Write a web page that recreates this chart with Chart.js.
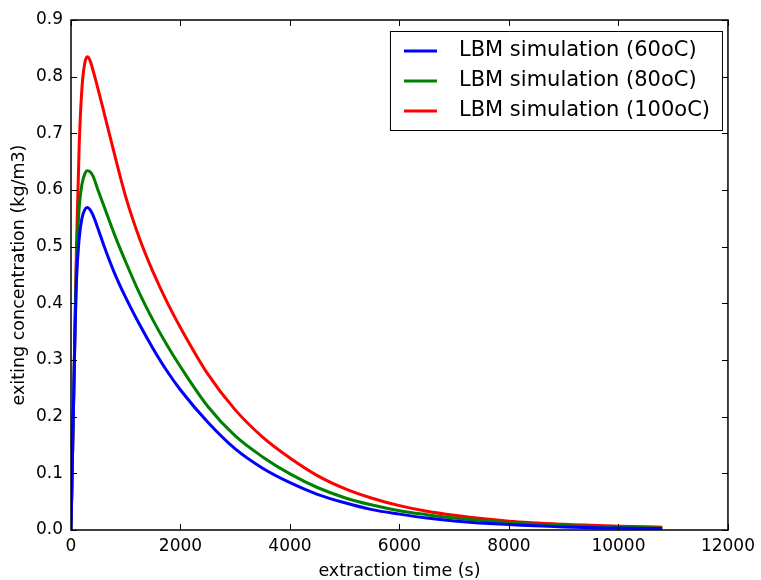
<!DOCTYPE html>
<html>
<head>
<meta charset="utf-8">
<script src="https://cdn.jsdelivr.net/npm/chart.js@4.4.0/dist/chart.umd.min.js"></script>
<style>
  html, body { margin: 0; padding: 0; background: #fff; }
  #wrap { width: 761px; height: 580px; }
</style>
</head>
<body>
<div id="wrap"><canvas id="chart"></canvas></div>
<script>
// extraction time (s)
const times = [0, 25, 50, 75, 100, 150, 200, 250, 300, 350, 400, 500, 600, 800, 1000, 1250, 1500, 1750, 2000,
  2500, 3000, 3500, 4000, 4500, 5000, 5500, 6000, 6500, 7000, 8000, 9000, 10000, 10800];

// exiting concentration (kg/m3)
const conc60 = [0, 0.12, 0.24, 0.355, 0.44, 0.515, 0.55, 0.565, 0.569, 0.565, 0.556, 0.53, 0.502, 0.452, 0.41, 0.363,
  0.32, 0.281, 0.247, 0.19, 0.143, 0.109, 0.0835, 0.063, 0.048, 0.036, 0.028, 0.021, 0.016, 0.0095, 0.0055, 0.0035, 0.0025];
const conc80 = [0, 0.12, 0.24, 0.37, 0.475, 0.57, 0.61, 0.628, 0.634, 0.632, 0.625, 0.598, 0.572, 0.52, 0.473, 0.418,
  0.37, 0.327, 0.288, 0.218, 0.166, 0.129, 0.099, 0.075, 0.057, 0.044, 0.034, 0.027, 0.021, 0.013, 0.008, 0.005, 0.0035];
const conc100 = [0, 0.12, 0.24, 0.37, 0.50, 0.68, 0.78, 0.823, 0.835, 0.828, 0.812, 0.776, 0.738, 0.661, 0.588, 0.515,
  0.455, 0.403, 0.357, 0.275, 0.212, 0.164, 0.127, 0.096, 0.073, 0.056, 0.043, 0.033, 0.026, 0.0155, 0.010, 0.0068, 0.005];

const seriesLabels = ['LBM simulation (60oC)', 'LBM simulation (80oC)', 'LBM simulation (100oC)'];
const seriesColors = ['#0000ff', '#008000', '#ff0000'];

const FONT = "'DejaVu Sans', sans-serif";

function toPoints(ys) {
  return times.map((t, i) => ({ x: t, y: ys[i] }));
}

// inward ticks on all four sides + frame, like the matplotlib original
const framePlugin = {
  id: 'frame',
  afterDraw(chart) {
    const ctx = chart.ctx;
    const a = chart.chartArea;
    const xs = chart.scales.x, ys = chart.scales.y;
    const len = 6;
    ctx.save();
    ctx.strokeStyle = '#000';
    ctx.lineWidth = 1;
    ctx.beginPath();
    xs.ticks.forEach(t => {
      const px = Math.round(xs.getPixelForValue(t.value)) + 0.5;
      ctx.moveTo(px, a.bottom); ctx.lineTo(px, a.bottom - len);
      ctx.moveTo(px, a.top); ctx.lineTo(px, a.top + len);
    });
    ys.ticks.forEach(t => {
      const py = Math.round(ys.getPixelForValue(t.value)) + 0.5;
      ctx.moveTo(a.left, py); ctx.lineTo(a.left + len, py);
      ctx.moveTo(a.right, py); ctx.lineTo(a.right - len, py);
    });
    ctx.stroke();
    ctx.lineWidth = 1.5;
    ctx.strokeRect(a.left, a.top, a.right - a.left, a.bottom - a.top);
    ctx.restore();
  }
};

// legend box in the upper right corner of the plot
const legendPlugin = {
  id: 'boxLegend',
  afterDraw(chart) {
    const ctx = chart.ctx;
    const a = chart.chartArea;
    const boxW = 332, boxH = 99;
    const x0 = a.right - 6 - boxW, y0 = a.top + 11;
    ctx.save();
    ctx.fillStyle = '#fff';
    ctx.fillRect(x0, y0, boxW, boxH);
    ctx.strokeStyle = '#000';
    ctx.lineWidth = 1;
    ctx.strokeRect(x0 + 0.5, y0 + 0.5, boxW, boxH);
    ctx.font = '21px ' + FONT;
    ctx.textBaseline = 'middle';
    chart.data.datasets.forEach((ds, i) => {
      const cy = y0 + 20 + i * 30;
      ctx.strokeStyle = ds.borderColor;
      ctx.lineWidth = 3;
      ctx.beginPath();
      ctx.moveTo(x0 + 14, cy);
      ctx.lineTo(x0 + 47, cy);
      ctx.stroke();
      ctx.fillStyle = '#000';
      ctx.fillText(ds.label, x0 + 69, cy);
    });
    ctx.restore();
  }
};

const datasets = [conc60, conc80, conc100].map((ys, i) => ({
  label: seriesLabels[i],
  data: toPoints(ys),
  borderColor: seriesColors[i],
  backgroundColor: seriesColors[i],
  borderWidth: 3,
  pointRadius: 0,
  fill: false,
  cubicInterpolationMode: 'monotone'
}));

new Chart(document.getElementById('chart'), {
  type: 'line',
  data: { datasets },
  options: {
    responsive: true,
    maintainAspectRatio: false,
    animation: false,
    layout: { padding: { left: 0, right: 30, top: 20, bottom: 0 } },
    plugins: {
      legend: { display: false },
      tooltip: { enabled: false }
    },
    scales: {
      x: {
        type: 'linear',
        min: 0,
        max: 12000,
        grid: { display: false, drawTicks: false },
        border: { display: false },
        ticks: {
          stepSize: 2000,
          padding: 6,
          color: '#000',
          font: { family: FONT, size: 17 },
          maxRotation: 0,
          callback: v => String(v)
        },
        title: {
          display: true,
          text: 'extraction time (s)',
          color: '#000',
          font: { family: FONT, size: 17.5, lineHeight: 1 },
          padding: { top: 0, bottom: 0 }
        },
        afterFit(scale) { scale.height = 50; }
      },
      y: {
        min: 0,
        max: 0.9,
        grid: { display: false, drawTicks: false },
        border: { display: false },
        ticks: {
          stepSize: 0.1,
          padding: 8,
          color: '#000',
          font: { family: FONT, size: 17 },
          callback: v => v.toFixed(1)
        },
        title: {
          display: true,
          text: 'exiting concentration (kg/m3)',
          color: '#000',
          font: { family: FONT, size: 17.5, lineHeight: 1.2 },
          padding: { top: 9, bottom: 0 }
        },
        afterFit(scale) { scale.width = 71; }
      }
    }
  },
  plugins: [framePlugin, legendPlugin]
});
</script>
</body>
</html>
